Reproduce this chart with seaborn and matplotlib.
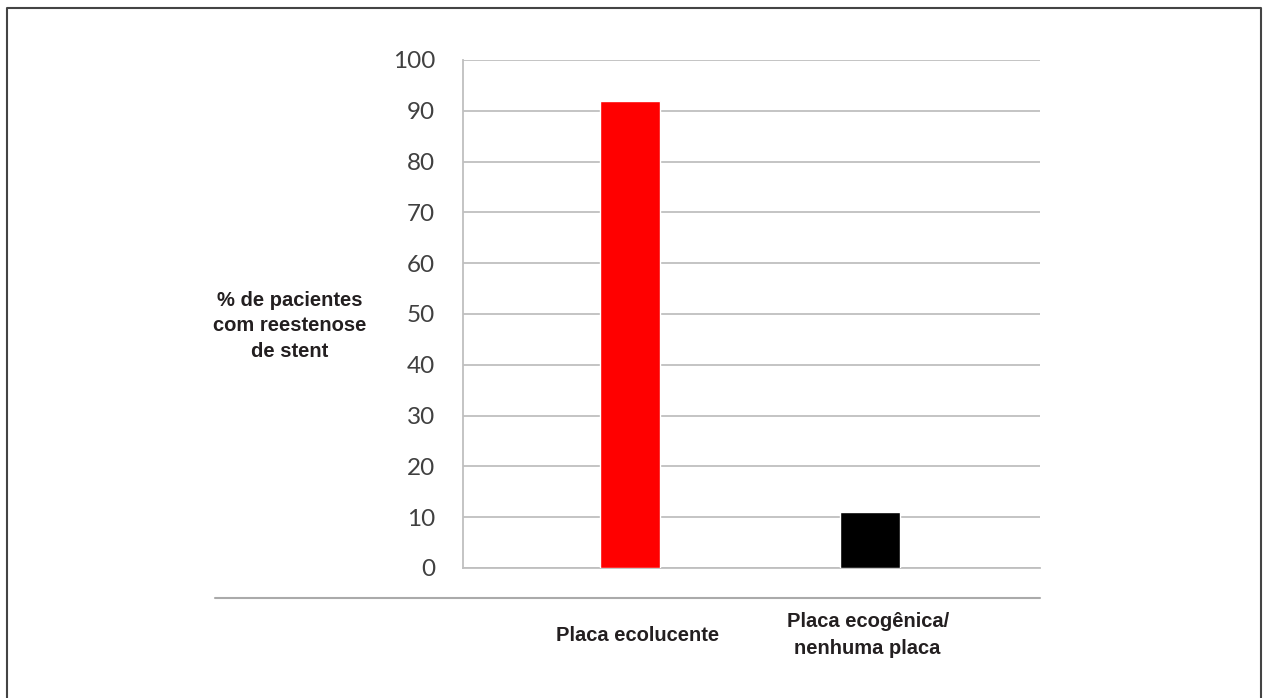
import matplotlib
matplotlib.use("Agg")
import matplotlib.pyplot as plt
from matplotlib.lines import Line2D
import seaborn as sns
import pandas as pd

categories = ["Placa ecolucente", "Placa ecogênica/\nnenhuma placa"]
values = [92, 11]
bar_colors = ["#FF0000", "#000000"]
yticks = [0, 10, 20, 30, 40, 50, 60, 70, 80, 90, 100]
ylabel = "% de pacientes\ncom reestenose\nde stent"

sns.set_style("white")
W, H = 1267, 698
fig = plt.figure(figsize=(W / 100, H / 100), dpi=100)
ax = fig.add_axes([463 / W, (H - 568) / H, 577 / W, 508 / H])

df = pd.DataFrame({"cat": categories, "val": values})
sns.barplot(data=df, x="cat", y="val", hue="cat", palette=bar_colors,
            width=0.25, legend=False, ax=ax, zorder=3, saturation=1)

ax.set_xlim(-0.696, 1.708)
ax.set_ylim(0, 100)
ax.set_yticks(yticks)
ax.set_yticklabels([str(t) for t in yticks], fontsize=17.5, color="#404040",
                   family=["Lato", "DejaVu Sans"])
ax.tick_params(axis="y", length=0, pad=20)
ax.set_xticks([])
ax.set_xlabel("")
ax.set_ylabel("")
ax.grid(axis="y", color="#BFBFBF", lw=1.3, zorder=0)
for s in ["top", "right"]:
    ax.spines[s].set_visible(False)
ax.spines["left"].set_color("#BFBFBF")
ax.spines["left"].set_linewidth(1.3)
ax.spines["bottom"].set_color("#BFBFBF")
ax.spines["bottom"].set_linewidth(1.3)

cond = ["Liberation Sans Narrow", "Liberation Sans", "DejaVu Sans"]
fig.text(290 / W, 1 - 326 / H, ylabel, ha="center", va="center",
         fontsize=14.5, fontweight="bold", color="#231F20", family=cond,
         linespacing=1.45)

# category labels
label_x = [0.033, 0.99]
for xi, c in zip(label_x, categories):
    ax.text(xi, -13.2, c, ha="center", va="center",
            fontsize=14.5, fontweight="bold", color="#231F20", family=cond,
            linespacing=1.5, clip_on=False)

# separator line and frame
fig.add_artist(Line2D([215 / W, 1040 / W], [1 - 598 / H, 1 - 598 / H],
                      color="#AAAAAA", lw=1.5, transform=fig.transFigure))
fig.add_artist(Line2D([7 / W, 7 / W, 1261 / W, 1261 / W],
                      [0, 1 - 8 / H, 1 - 8 / H, 0],
                      color="#444444", lw=1.5, transform=fig.transFigure))

fig.savefig("out.png", dpi=100)
